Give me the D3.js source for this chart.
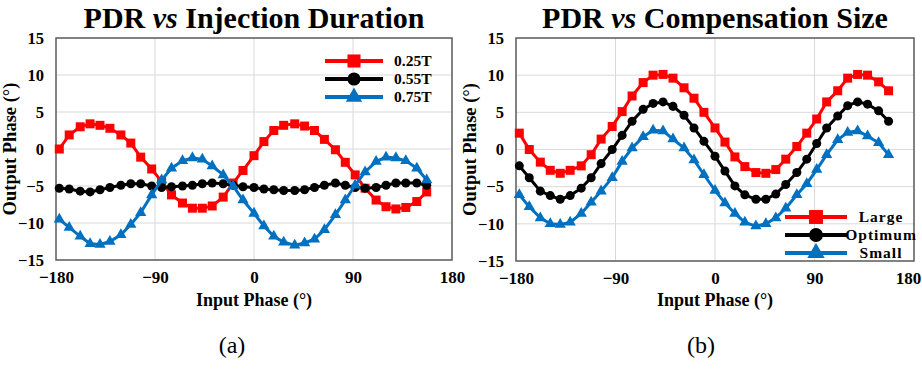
<!DOCTYPE html>
<html>
<head>
<meta charset="utf-8">
<script src="https://cdn.jsdelivr.net/npm/d3@7"></script>
<style>
  html, body { margin: 0; padding: 0; background: #fff; }
  svg { display: block; }
  text { font-family: "Liberation Serif", "Times New Roman", serif; }
</style>
</head>
<body>
<svg id="chart" width="922" height="384"></svg>
<script>
// Input phase samples (degrees), shared by both panels
const inputPhase = [-177, -168, -158, -149, -140, -131, -121, -112, -103, -93, -84, -75, -65, -56, -47, -38, -28, -19, -10, 0, 9, 18, 27, 37, 46, 55, 64, 74, 83, 92, 101, 111, 120, 129, 138, 148, 157];

// Panel (a): output phase for three injection durations
const dur025 = [0.0, 1.9, 3.0, 3.4, 3.2, 2.8, 1.9, 0.8, -1.1, -2.7, -4.4, -6.2, -7.3, -8.0, -8.0, -7.7, -6.5, -4.6, -2.9, -0.9, 1.0, 2.5, 3.2, 3.4, 3.1, 2.5, 1.3, -0.1, -1.8, -3.5, -5.3, -6.9, -7.8, -8.1, -7.9, -7.1, -5.8];
const dur055 = [-5.3, -5.4, -5.7, -5.8, -5.5, -5.2, -4.9, -4.7, -4.7, -5.0, -5.2, -5.1, -5.0, -4.9, -4.7, -4.6, -4.7, -4.9, -5.1, -5.2, -5.4, -5.5, -5.6, -5.6, -5.5, -5.2, -4.9, -4.6, -4.9, -5.2, -5.3, -5.2, -4.9, -4.6, -4.6, -4.6, -4.9];
const dur075 = [-9.5, -10.6, -11.8, -12.8, -12.9, -12.5, -11.6, -10.2, -8.6, -6.2, -4.2, -2.6, -1.6, -1.2, -1.4, -2.3, -3.5, -5.0, -6.9, -8.7, -10.4, -11.8, -12.6, -13.0, -12.7, -12.2, -10.9, -8.9, -6.9, -4.9, -3.1, -1.7, -1.1, -1.2, -1.6, -2.6, -4.2];

// Panel (b): output phase for three compensation sizes
const sizeLarge = [2.2, 0.0, -1.7, -2.8, -3.2, -2.8, -2.2, -0.7, 1.4, 3.1, 5.1, 7.2, 9.0, 10.0, 10.1, 9.6, 8.3, 6.9, 5.0, 2.9, 1.0, -1.0, -2.3, -3.1, -3.2, -2.7, -1.3, 0.4, 2.2, 4.1, 6.4, 7.9, 9.6, 10.1, 10.0, 9.1, 7.9];
const sizeOptimum = [-2.2, -3.8, -5.6, -6.2, -6.7, -6.2, -5.2, -3.8, -1.9, 0.0, 1.9, 3.8, 5.4, 6.2, 6.4, 5.8, 4.6, 2.9, 1.1, -0.9, -2.9, -4.9, -6.1, -6.7, -6.7, -6.0, -4.7, -3.1, -1.3, 0.8, 2.9, 4.5, 5.9, 6.4, 6.1, 5.2, 3.8];
const sizeSmall = [-6.1, -7.7, -9.2, -10.0, -10.1, -9.8, -8.6, -7.1, -5.6, -3.8, -1.6, 0.2, 1.7, 2.6, 2.5, 1.4, 0.2, -1.4, -3.4, -5.5, -7.2, -8.6, -9.8, -10.3, -10.0, -9.2, -7.9, -6.1, -4.6, -2.7, -0.7, 1.3, 2.3, 2.5, 1.8, 0.9, -0.7];

// Axis ticks
const xTicks = [-180, -90, 0, 90, 180];
const yTicks = [-15, -10, -5, 0, 5, 10, 15];

const RED = "#ff0000", BLACK = "#000000", BLUE = "#0070c0";

const svg = d3.select("#chart");

function drawPanel(opts) {
  const { left, right, top, bottom, titleParts, series, legend, caption, lastTickShift } = opts;
  const x = d3.scaleLinear().domain([-180, 180]).range([left, right]);
  const y = d3.scaleLinear().domain([-15, 15]).range([bottom, top]);
  const g = svg.append("g");

  // gridlines
  g.append("g").selectAll("line").data(yTicks.slice(1, -1)).join("line")
    .attr("x1", left).attr("x2", right)
    .attr("y1", d => y(d)).attr("y2", d => y(d))
    .attr("stroke", "#d9d9d9").attr("stroke-width", 1);
  g.append("g").selectAll("line").data(xTicks.slice(1, -1)).join("line")
    .attr("y1", top).attr("y2", bottom)
    .attr("x1", d => x(d)).attr("x2", d => x(d))
    .attr("stroke", "#d9d9d9").attr("stroke-width", 1);

  // plot frame
  g.append("rect").attr("x", left).attr("y", top)
    .attr("width", right - left).attr("height", bottom - top)
    .attr("fill", "none").attr("stroke", "#595959").attr("stroke-width", 1.5);

  // axes (labels only)
  const ax = g.append("g").attr("transform", `translate(0,${bottom})`)
    .call(d3.axisBottom(x).tickValues(xTicks).tickSize(0).tickPadding(11));
  ax.select(".domain").remove();
  ax.selectAll("text").attr("font-family", "Liberation Serif").attr("font-weight", "bold")
    .attr("font-size", 17).attr("fill", "#000")
    .attr("dx", d => d === 180 ? -(lastTickShift || 0) : 0);

  const ay = g.append("g").attr("transform", `translate(${left},0)`)
    .call(d3.axisLeft(y).tickValues(yTicks).tickSize(0).tickPadding(12));
  ay.select(".domain").remove();
  ay.selectAll("text").attr("font-family", "Liberation Serif").attr("font-weight", "bold")
    .attr("font-size", 16.5).attr("fill", "#000");

  // axis titles
  g.append("text").attr("x", (left + right) / 2).attr("y", 306)
    .attr("text-anchor", "middle").attr("font-weight", "bold").attr("font-size", 18)
    .text("Input Phase (°)");
  g.append("text")
    .attr("transform", `translate(${left - 40},${(top + bottom) / 2}) rotate(-90)`)
    .attr("text-anchor", "middle").attr("font-weight", "bold").attr("font-size", 18.5)
    .text("Output Phase (°)");

  // title with italic "vs"
  const t = g.append("text").attr("x", (left + right) / 2).attr("y", 28)
    .attr("text-anchor", "middle").attr("font-weight", "bold").attr("font-size", 30);
  t.append("tspan").text("PDR ");
  t.append("tspan").attr("font-style", "italic").text("vs");
  t.append("tspan").text(" " + titleParts);

  // series
  const line = d3.line().x((d, i) => x(inputPhase[i])).y(d => y(d));
  series.forEach(s => {
    const sg = g.append("g");
    sg.append("path").datum(s.values).attr("d", line)
      .attr("fill", "none").attr("stroke", s.color).attr("stroke-width", 3);
    sg.selectAll("path.m").data(s.values).join("path").attr("class", "m")
      .attr("transform", (d, i) => `translate(${x(inputPhase[i])},${y(d)})`)
      .attr("d", d3.symbol().type(s.symbol).size(s.size))
      .attr("fill", s.color);
  });

  // legend
  const lg = g.append("g");
  series.forEach((s, k) => {
    const ly = legend.y0 + k * legend.dy;
    lg.append("line").attr("x1", legend.x1).attr("x2", legend.x2)
      .attr("y1", ly).attr("y2", ly).attr("stroke", s.color).attr("stroke-width", 4);
    lg.append("path").attr("transform", `translate(${(legend.x1 + legend.x2) / 2},${ly})`)
      .attr("d", d3.symbol().type(s.symbol).size(s.size * legend.scale)).attr("fill", s.color);
    lg.append("text").attr("x", legend.tx).attr("y", ly + 5)
      .attr("text-anchor", legend.anchor).attr("font-weight", "bold").attr("font-size", legend.fs)
      .attr("letter-spacing", legend.ls || 0)
      .text(s.name);
  });

  // caption
  svg.append("text").attr("x", caption.x).attr("y", 353).attr("text-anchor", "middle")
    .attr("font-size", 24).text(caption.text);
}

drawPanel({
  left: 56, right: 452, top: 38, bottom: 260,
  titleParts: "Injection Duration",
  series: [
    { name: "0.25T", values: dur025, color: RED, symbol: d3.symbolSquare, size: 81 },
    { name: "0.55T", values: dur055, color: BLACK, symbol: d3.symbolCircle, size: 64 },
    { name: "0.75T", values: dur075, color: BLUE, symbol: d3.symbolTriangle, size: 55 }
  ],
  legend: { x1: 325, x2: 383, y0: 61, dy: 18, tx: 394, anchor: "start", fs: 15.5, scale: 2.1 },
  caption: { x: 232, text: "(a)" },
  lastTickShift: 0
});

drawPanel({
  left: 516, right: 914, top: 38, bottom: 261,
  titleParts: "Compensation Size",
  series: [
    { name: "Large", values: sizeLarge, color: RED, symbol: d3.symbolSquare, size: 81 },
    { name: "Optimum", values: sizeOptimum, color: BLACK, symbol: d3.symbolCircle, size: 64 },
    { name: "Small", values: sizeSmall, color: BLUE, symbol: d3.symbolTriangle, size: 55 }
  ],
  legend: { x1: 785, x2: 847, y0: 217, dy: 18, tx: 881, anchor: "middle", fs: 15.5, scale: 2.4, ls: 1 },
  caption: { x: 701, text: "(b)" },
  lastTickShift: 6
});
</script>
</body>
</html>
